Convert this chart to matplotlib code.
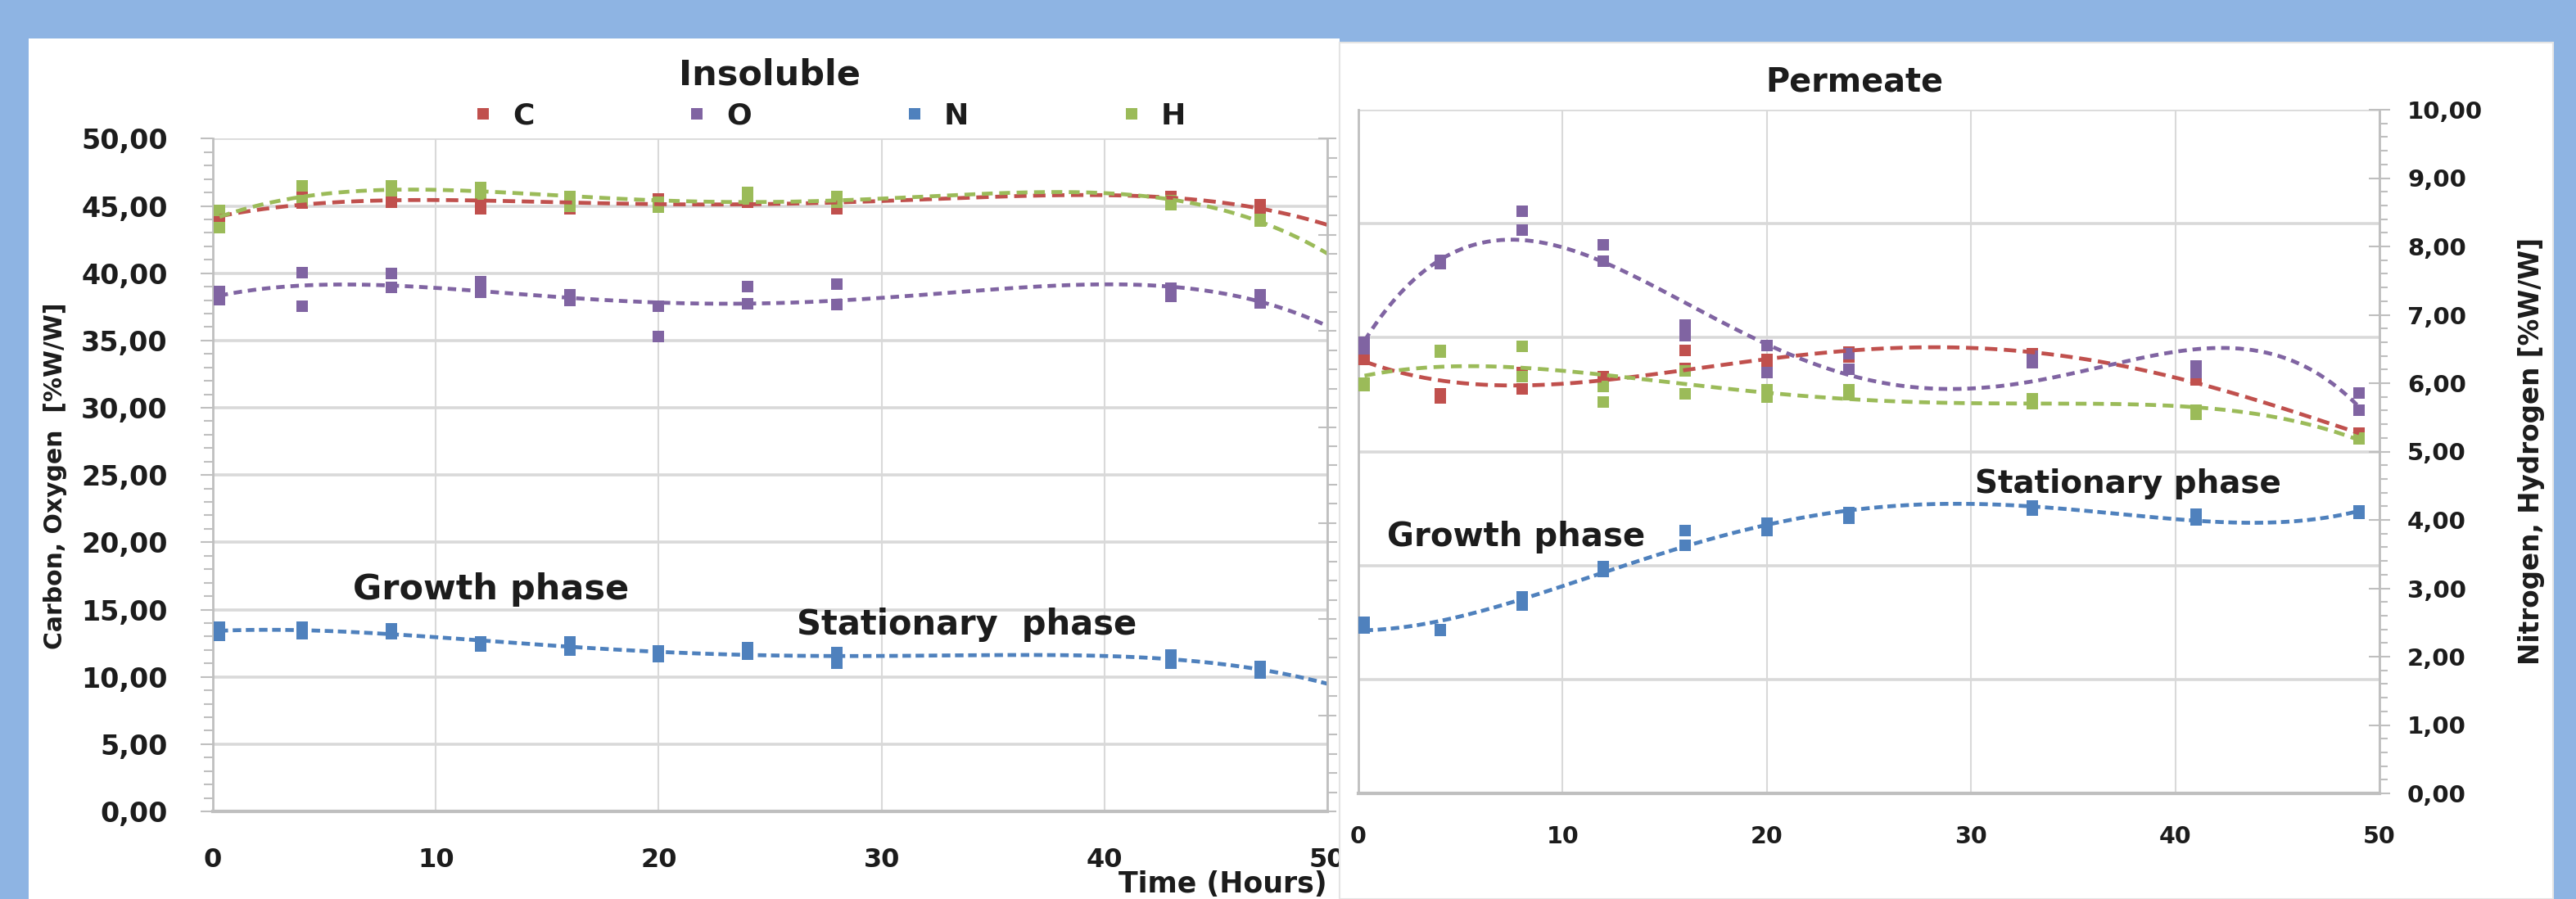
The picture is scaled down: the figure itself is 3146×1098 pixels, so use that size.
import numpy as np
import matplotlib
matplotlib.use('Agg')
import matplotlib.pyplot as plt
from matplotlib.patches import Rectangle
from matplotlib.lines import Line2D
from matplotlib.ticker import MultipleLocator, FuncFormatter

# ---------------- data ----------------
t_ins = [0.3, 4, 8, 12, 16, 20, 24, 28, 43, 47]
C_ins_a = [44.4, 45.7, 45.7, 44.8, 45.3, 45.5, 45.6, 45.4, 45.7, 45.1]
C_ins_b = [43.7, 45.2, 45.3, 45.4, 44.8, 45.0, 45.3, 44.8, 45.4, 44.6]
O_ins_a = [38.65, 40.07, 40.0, 39.38, 38.4, 37.55, 39.0, 39.18, 38.9, 38.4]
O_ins_b = [38.04, 37.55, 38.97, 38.6, 38.0, 35.3, 37.75, 37.7, 38.3, 37.8]
N_ins_a = [13.7, 13.7, 13.6, 12.6, 12.6, 11.9, 12.2, 11.8, 11.6, 10.8]
N_ins_b = [13.1, 13.2, 13.2, 12.3, 12.0, 11.5, 11.7, 11.0, 11.0, 10.3]
H_ins_a = [44.65, 46.5, 46.5, 46.4, 45.7, 45.3, 46.0, 45.7, 45.4, 44.0]
H_ins_b = [43.38, 45.4, 46.1, 45.9, 45.0, 44.9, 45.5, 45.3, 45.1, 43.9]

t_per = [0.3, 4, 8, 12, 16, 20, 24, 33, 41, 49]
C_per_a = [6.5, 5.85, 6.15, 6.1, 6.48, 6.35, 6.45, 6.43, 6.12, 5.27]
C_per_b = [6.35, 5.78, 5.92, 5.98, 6.22, 6.28, 6.38, 6.35, 6.05, 5.22]
O_per_a = [6.6, 7.8, 8.52, 8.02, 6.85, 6.55, 6.43, 6.4, 6.25, 5.86]
O_per_b = [6.5, 7.75, 8.24, 7.79, 6.7, 6.16, 6.2, 6.3, 6.15, 5.6]
N_per_a = [2.5, 2.4, 2.88, 3.32, 3.84, 3.95, 4.11, 4.2, 4.08, 4.13]
N_per_b = [2.42, 2.38, 2.75, 3.25, 3.63, 3.85, 4.02, 4.14, 4.0, 4.1]
H_per_a = [6.0, 6.48, 6.54, 5.72, 6.18, 5.9, 5.9, 5.77, 5.61, 5.2]
H_per_b = [5.97, 6.45, 6.09, 5.95, 5.84, 5.8, 5.83, 5.7, 5.55, 5.18]

elements = ['C', 'O', 'N', 'H']
colors = {'C': '#C0504D', 'O': '#8064A2', 'N': '#4F81BD', 'H': '#9BBB59'}
dashes = {'C': (3.2, 1.7), 'O': (2.2, 1.5), 'N': (2.2, 1.2), 'H': (2.8, 1.7)}
trend_deg = 4

# ---------------- figure ----------------
W, H = 3146, 1098
DPI = 100
plt.rcParams['font.family'] = ['DejaVu Sans']
plt.rcParams['font.weight'] = 'bold'
TXT = '#1c1c1c'
GRID = '#D9D9D9'
SPINE = '#BFBFBF'

fig = plt.figure(figsize=(W / DPI, H / DPI), dpi=DPI, facecolor='#8EB4E3')


def fx(px):
    return px / W


def fy(py):
    return 1 - py / H


fig.add_artist(Rectangle((fx(35), 0), fx(1636) - fx(35), fy(47), transform=fig.transFigure,
                         facecolor='white', edgecolor='none', zorder=-5))
fig.add_artist(Rectangle((fx(1636), 0), fx(3118) - fx(1636), fy(52), transform=fig.transFigure,
                         facecolor='white', edgecolor='#E4E4E4', lw=1.5, zorder=0.5))

comma_fmt = FuncFormatter(lambda v, p: f"{v:.2f}".replace('.', ','))


def draw_series(ax, t, a, b, el, x_end):
    tt = np.array(t + t, dtype=float)
    yy = np.array(a + b, dtype=float)
    ax.plot(tt, yy, linestyle='none', marker='s', markersize=9.5, color=colors[el],
            markeredgewidth=0, zorder=3)
    coef = np.polyfit(tt, yy, trend_deg)
    xs = np.linspace(min(t), x_end, 300)
    ax.plot(xs, np.polyval(coef, xs), color=colors[el], lw=3.4,
            linestyle=(0, dashes[el]), zorder=4, dash_capstyle='butt')


# ---------------- left: Insoluble ----------------
axL = fig.add_axes([fx(260), fy(991), fx(1621) - fx(260), fy(169.4) - fy(991)])
axL.set_facecolor('none')
axL.set_xlim(0, 50)
axL.set_ylim(0, 50)
axL.xaxis.set_major_locator(MultipleLocator(10))
axL.yaxis.set_major_locator(MultipleLocator(5))
axL.yaxis.set_minor_locator(MultipleLocator(1))
axL.yaxis.set_major_formatter(comma_fmt)
axL.yaxis.grid(True, color=GRID, lw=2.6)
axL.xaxis.grid(True, color=GRID, lw=1.5)
axL.set_axisbelow(True)
axL.spines['top'].set_visible(False)
axL.spines['left'].set_color(SPINE)
axL.spines['left'].set_linewidth(2)
axL.spines['bottom'].set_color(SPINE)
axL.spines['bottom'].set_linewidth(3)
axL.spines['right'].set_visible(False)
axL.tick_params(axis='y', which='major', direction='out', length=10.8, width=1.5, color=SPINE,
                pad=29, labelsize=24, labelcolor=TXT)
axL.tick_params(axis='y', which='minor', direction='out', length=8, width=1.5, color=SPINE)
axL.tick_params(axis='x', which='major', length=0, pad=32, labelsize=23, labelcolor=TXT)

for el in elements:
    a = globals()[f'{el}_ins_a']
    b = globals()[f'{el}_ins_b']
    draw_series(axL, t_ins, a, b, el, 50)

axL.text(6.3, 15.76, 'Growth phase', fontsize=31, color=TXT, ha='left', va='baseline')
axL.text(26.2, 13.15, 'Stationary  phase', fontsize=30, color=TXT, ha='left', va='baseline')

axL2 = axL.twinx()
axL2.set_ylim(0, 7)
axL2.yaxis.set_major_locator(MultipleLocator(1))
axL2.yaxis.set_minor_locator(MultipleLocator(0.2))
axL2.tick_params(axis='y', which='major', direction='inout', length=16.5, width=1.5, color=SPINE,
                 labelright=False)
axL2.tick_params(axis='y', which='minor', direction='out', length=8.6, width=1.5, color=SPINE)
for s in ['top', 'left', 'bottom']:
    axL2.spines[s].set_visible(False)
axL2.spines['right'].set_color(SPINE)
axL2.spines['right'].set_linewidth(2)

fig.text(fx(940), fy(103), 'Insoluble', fontsize=31, color=TXT, ha='center', va='baseline')
fig.text(fx(68), fy(581), 'Carbon, Oxygen  [%W/W]', fontsize=21.5, color=TXT,
         rotation=90, ha='center', va='center')
fig.text(fx(1621), fy(1063), 'Time (Hours)', fontsize=25, color=TXT, ha='right', va='top')

handles = [Line2D([], [], linestyle='none', marker='s', markersize=9.5, markeredgewidth=0,
                  color=colors[el]) for el in elements]
fig.legend(handles, elements, loc='center', bbox_to_anchor=(fx(1012), fy(142)), ncol=4,
           frameon=False, fontsize=26, handlelength=0.8, handletextpad=0.6,
           columnspacing=5.1, labelcolor=TXT)

# ---------------- right: Permeate ----------------
axR = fig.add_axes([fx(1659), fy(969), fx(2906) - fx(1659), fy(134) - fy(969)])
axR.set_zorder(1)
axR.set_facecolor('none')
axR.set_xlim(0, 50)
axR.set_ylim(0, 6)
axR.xaxis.set_major_locator(MultipleLocator(10))
axR.yaxis.set_major_locator(MultipleLocator(1))
axR.tick_params(axis='y', which='both', length=0, labelleft=False)
axR.tick_params(axis='x', which='major', length=0, pad=28, labelsize=20.5, labelcolor=TXT)
axR.yaxis.grid(True, color=GRID, lw=2.6)
axR.xaxis.grid(True, color=GRID, lw=1.5)
axR.set_axisbelow(True)
axR.spines['top'].set_visible(False)
axR.spines['right'].set_visible(False)
axR.spines['left'].set_color(SPINE)
axR.spines['left'].set_linewidth(2)
axR.spines['bottom'].set_color(SPINE)
axR.spines['bottom'].set_linewidth(3)

axR2 = axR.twinx()
axR2.set_zorder(1.1)
axR2.patch.set_visible(False)
axR2.set_ylim(0, 10)
axR2.yaxis.set_major_locator(MultipleLocator(1))
axR2.yaxis.set_minor_locator(MultipleLocator(0.2))
axR2.yaxis.set_major_formatter(comma_fmt)
axR2.tick_params(axis='y', which='major', direction='inout', length=18.7, width=1.5, color=SPINE,
                 pad=15.2, labelsize=21, labelcolor=TXT)
axR2.tick_params(axis='y', which='minor', direction='out', length=7.2, width=1.5, color=SPINE)
for s in ['top', 'left', 'bottom']:
    axR2.spines[s].set_visible(False)
axR2.spines['right'].set_color(SPINE)
axR2.spines['right'].set_linewidth(2)

for el in elements:
    a = globals()[f'{el}_per_a']
    b = globals()[f'{el}_per_b']
    draw_series(axR2, t_per, a, b, el, t_per[-1])

axR2.text(1.4, 3.62, 'Growth phase', fontsize=29, color=TXT, ha='left', va='baseline')
axR2.text(30.2, 4.39, 'Stationary phase', fontsize=28, color=TXT, ha='left', va='baseline')

fig.text(fx(2265), fy(112), 'Permeate', fontsize=28.6, color=TXT, ha='center', va='baseline')
fig.text(fx(3092), fy(551), 'Nitrogen, Hydrogen [%W/W]', fontsize=23.5, color=TXT,
         rotation=90, ha='center', va='center')

fig.savefig('out.png', dpi=DPI, facecolor=fig.get_facecolor())
